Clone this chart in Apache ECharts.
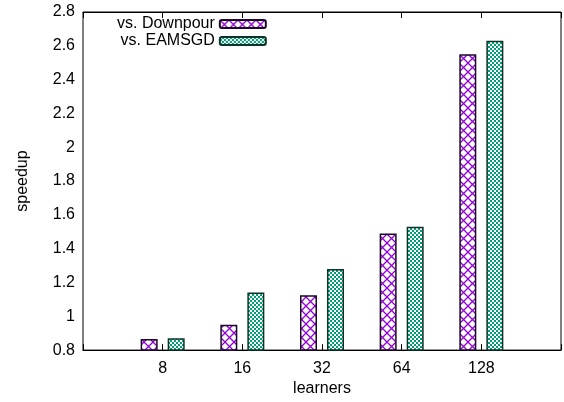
<!DOCTYPE html>
<html>
<head>
<meta charset="utf-8">
<script src="https://cdn.jsdelivr.net/npm/echarts@6/dist/echarts.min.js"></script>
<style>
  html, body { margin: 0; padding: 0; background: #fff; }
  #chart { width: 564px; height: 402px; }
</style>
</head>
<body>
<div id="chart"></div>
<script>
// data
const learners = ['', '8', '16', '32', '64', '128', ''];
const vsDownpour = [null, 0.865, 0.95, 1.125, 1.49, 2.55, null];
const vsEAMSGD = [null, 0.87, 1.14, 1.28, 1.53, 2.63, null];
const seriesNames = ['vs. Downpour', 'vs. EAMSGD'];

// crosshatch pattern for the purple bars
function crossHatch() {
  const c = document.createElement('canvas');
  c.width = 9; c.height = 9;
  const ctx = c.getContext('2d');
  ctx.fillStyle = '#fff';
  ctx.fillRect(0, 0, 9, 9);
  ctx.strokeStyle = '#9400d3';
  ctx.lineWidth = 1.3;
  ctx.beginPath();
  ctx.moveTo(0, 0); ctx.lineTo(9, 9);
  ctx.moveTo(9, 0); ctx.lineTo(0, 9);
  ctx.stroke();
  return c;
}

// small checker pattern for the green bars
function checker() {
  const c = document.createElement('canvas');
  c.width = 4; c.height = 4;
  const ctx = c.getContext('2d');
  ctx.fillStyle = '#009e73';
  ctx.fillRect(0, 0, 4, 4);
  ctx.fillStyle = '#fff';
  ctx.fillRect(0, 0, 2, 2);
  ctx.fillRect(2, 2, 2, 2);
  return c;
}

const font = 'Liberation Sans';
const fs = 16;
const chart = echarts.init(document.getElementById('chart'));

const axisCommon = {
  axisLine: { lineStyle: { color: '#000', width: 1 } },
  axisTick: { inside: true, length: 6, lineStyle: { color: '#000' } },
  splitLine: { show: false }
};

chart.setOption({
  animation: false,
  textStyle: { fontFamily: font },
  grid: {
    left: 83, right: 1, top: 12, bottom: 50,
    show: true, borderColor: '#000', borderWidth: 1
  },
  legend: {
    orient: 'vertical',
    align: 'right',
    left: 117,
    top: 16,
    padding: 0,
    itemGap: 1,
    itemWidth: 46,
    itemHeight: 8,
    textStyle: { fontFamily: font, fontSize: fs, lineHeight: 14, color: '#000' },
    data: seriesNames
  },
  xAxis: [{
    type: 'category',
    data: learners,
    boundaryGap: false,
    name: 'learners',
    nameLocation: 'middle',
    nameGap: 29,
    nameTextStyle: { fontSize: fs, color: '#000' },
    axisLabel: { fontSize: fs, color: '#000', margin: 10, interval: 0 },
    ...axisCommon
  }, {
    type: 'category',
    data: learners,
    boundaryGap: false,
    position: 'top',
    axisLabel: { show: false },
    ...axisCommon
  }],
  yAxis: [{
    type: 'value',
    min: 0.8,
    max: 2.8,
    interval: 0.2,
    name: 'speedup',
    nameLocation: 'middle',
    nameRotate: 90,
    nameGap: 52,
    nameTextStyle: { fontSize: fs, color: '#000' },
    axisLabel: { fontSize: fs, color: '#000', margin: 8 },
    ...axisCommon
  }, {
    type: 'value',
    min: 0.8,
    max: 2.8,
    interval: 0.2,
    position: 'right',
    axisLabel: { show: false },
    ...axisCommon
  }],
  series: [{
    name: seriesNames[0],
    type: 'bar',
    data: vsDownpour,
    barWidth: 17,
    barGap: '59%',
    itemStyle: {
      color: { image: crossHatch(), repeat: 'repeat' },
      borderColor: '#1a0a28',
      borderWidth: 1.5
    }
  }, {
    name: seriesNames[1],
    type: 'bar',
    data: vsEAMSGD,
    barWidth: 17,
    barGap: '59%',
    itemStyle: {
      color: { image: checker(), repeat: 'repeat' },
      borderColor: '#0b3328',
      borderWidth: 1.5
    }
  }]
});
</script>
</body>
</html>
